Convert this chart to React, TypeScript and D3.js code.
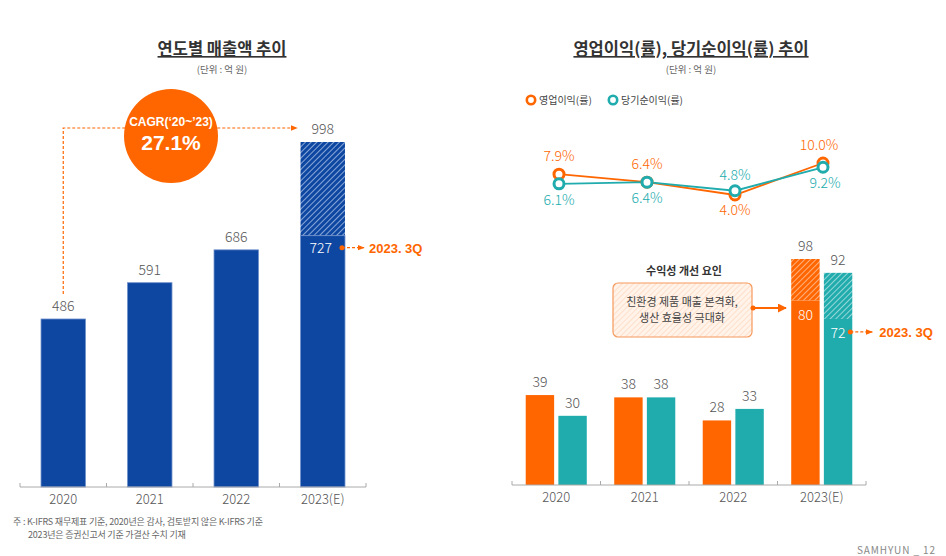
import React from "react";
import * as d3 from "d3";

const years = ["2020", "2021", "2022", "2023(E)"];
const sales = [486, 591, 686, 998];
const sales3Q = 727;
const opMargin = [7.9, 6.4, 4.0, 10.0];
const netMargin = [6.1, 6.4, 4.8, 9.2];
const opProfit = [39, 38, 28, 98];
const netProfit = [30, 38, 33, 92];
const op3Q = 80;
const net3Q = 72;
const seriesKeys = ["op", "net"];

const BLUE = "#0E47A1";
const ORANGE = "#FF6600";
const TEAL = "#20ABAD";
const GRAY = "#555";
const FONT = "'Noto Sans CJK KR', 'Noto Sans', sans-serif";

export default function App() {
  // left chart
  const xL = d3.scaleBand().domain(years).range([20, 366]).paddingInner(0.486).paddingOuter(0.243);
  const yL = d3.scaleLinear().domain([0, 998]).range([487, 142]);
  // right bars
  const xR = d3.scaleBand().domain(years).range([512, 866]).paddingInner(0.31).paddingOuter(0.155);
  const xS = d3.scaleBand().domain(seriesKeys).range([0, xR.bandwidth()]).paddingInner(0.13);
  const yR = d3.scaleLinear().domain([0, 98]).range([485, 259]);
  // right lines
  const xLine = d3.scalePoint().domain(years).range([559, 823]);
  const yLine = d3.scaleLinear().domain([4, 10]).range([195, 163]);
  const line = d3.line<number>().x((_, i) => xLine(years[i])!).y((d) => yLine(d));

  const ticksL = [20, ...years.map((y) => xL(y)! + xL.bandwidth() + (xL.step() - xL.bandwidth()) / 2)];
  const ticksR = [512, ...years.map((y) => xR(y)! + xR.bandwidth() + (xR.step() - xR.bandwidth()) / 2)];

  const opLabelAbove = [true, true, false, true];
  const netLabelAbove = [false, false, true, false];

  const lastL = years[3];
  const bx = xL(lastL)!;
  const bw = xL.bandwidth();
  const ox = xR(lastL)! + xS("op")!;
  const nx = xR(lastL)! + xS("net")!;
  const sw = xS.bandwidth();

  const cagrX = xL(years[0])! + bw / 2;

  return (
    <svg width={946} height={556} style={{ position: "absolute", left: 0, top: 0, fontFamily: FONT }}>
      <defs>
        <pattern id="hatchBlue" width="4" height="4" patternUnits="userSpaceOnUse" patternTransform="rotate(45)">
          <rect width="4" height="4" fill={BLUE} />
          <line x1="0" y1="0" x2="0" y2="4" stroke="#A9C0E6" strokeWidth="1.6" />
        </pattern>
        <pattern id="hatchOrange" width="4" height="4" patternUnits="userSpaceOnUse" patternTransform="rotate(45)">
          <rect width="4" height="4" fill={ORANGE} />
          <line x1="0" y1="0" x2="0" y2="4" stroke="#FFC4A0" strokeWidth="1.6" />
        </pattern>
        <pattern id="hatchTeal" width="4" height="4" patternUnits="userSpaceOnUse" patternTransform="rotate(45)">
          <rect width="4" height="4" fill={TEAL} />
          <line x1="0" y1="0" x2="0" y2="4" stroke="#B5E3E4" strokeWidth="1.6" />
        </pattern>
        <pattern id="hatchBox" width="4" height="4" patternUnits="userSpaceOnUse" patternTransform="rotate(45)">
          <rect width="4" height="4" fill="#FFF3EA" />
          <line x1="0" y1="0" x2="0" y2="4" stroke="#FFD9BF" strokeWidth="1.5" />
        </pattern>
        <marker id="arrowO" viewBox="0 0 10 10" refX="9" refY="5" markerWidth="6" markerHeight="6" orient="auto">
          <path d="M0,1 L10,5 L0,9 z" fill={ORANGE} />
        </marker>
        <marker id="arrowLine" viewBox="0 0 10 10" refX="9" refY="5" markerWidth="5" markerHeight="5" orient="auto">
          <path d="M0,0 L10,5 L0,10 z" fill={ORANGE} />
        </marker>
      </defs>

      {/* ===== LEFT CHART ===== */}
      <text x={222} y={55} textAnchor="middle" fontSize={16.5} fontWeight={700} fill="#333" textDecoration="underline">
        연도별 매출액 추이
      </text>
      <text x={222} y={73} textAnchor="middle" fontSize={9.5} fill="#666">(단위 : 억 원)</text>

      {/* CAGR dashed connector */}
      <path
        d={`M${cagrX},${294} V128 H297`}
        fill="none"
        stroke={ORANGE}
        strokeWidth={1.2}
        strokeDasharray="3,2"
        markerEnd="url(#arrowO)"
      />
      <circle cx={171} cy={136} r={47} fill={ORANGE} />
      <text x={171} y={126} textAnchor="middle" fontSize={12} fontWeight={700} fill="#fff" fontFamily="'Liberation Sans', Arial, sans-serif">
        CAGR(‘20~’23)
      </text>
      <text x={171} y={150} textAnchor="middle" fontSize={21} fontWeight={700} fill="#fff" fontFamily="'Liberation Sans', Arial, sans-serif">
        27.1%
      </text>

      {years.map((y, i) => {
        const x = xL(y)!;
        const top = yL(sales[i]);
        const isLast = i === 3;
        return (
          <g key={y}>
            {isLast ? (
              <>
                <rect x={x} y={top} width={bw} height={yL(sales3Q) - top} fill="url(#hatchBlue)" />
                <rect x={x} y={yL(sales3Q)} width={bw} height={yL(0) - yL(sales3Q)} fill={BLUE} stroke="#6F8FCB" strokeWidth={0.8} />
              </>
            ) : (
              <rect x={x} y={top} width={bw} height={yL(0) - top} fill={BLUE} stroke="#6F8FCB" strokeWidth={0.8} />
            )}
            <text x={x + bw / 2} y={top - 8} textAnchor="middle" fontSize={14} fill={GRAY} fontWeight={300}>
              {sales[i]}
            </text>
            <text x={x + bw / 2} y={504} textAnchor="middle" fontSize={13} fill={GRAY} fontWeight={300}>
              {y}
            </text>
          </g>
        );
      })}
      <text x={bx + bw / 2 - 2} y={yL(sales3Q) + 17} textAnchor="middle" fontSize={14} fill="#fff" fontWeight={300}>
        {sales3Q}
      </text>
      <circle cx={bx + bw - 3} cy={yL(sales3Q) + 12} r={2.5} fill={ORANGE} />
      <line x1={bx + bw - 3} y1={yL(sales3Q) + 12} x2={bx + bw + 19} y2={yL(sales3Q) + 12} stroke={ORANGE} strokeWidth={1.2} strokeDasharray="3,2" markerEnd="url(#arrowO)" />
      <text x={bx + bw + 24} y={yL(sales3Q) + 17} fontSize={13} fontWeight={700} fill={ORANGE} fontFamily="'Liberation Sans', Arial, sans-serif">
        2023. 3Q
      </text>

      <line x1={20} x2={366} y1={487} y2={487} stroke="#aaa" strokeWidth={1} />
      {ticksL.map((t, i) => (
        <line key={i} x1={t} x2={t} y1={483} y2={487} stroke="#aaa" strokeWidth={1} />
      ))}

      {/* footer */}
      <text x={13} y={525} fontSize={9} fill="#666" letterSpacing={-0.2}>
        주 : K-IFRS 재무제표 기준, 2020년은 감사, 검토받지 않은 K-IFRS 기준
      </text>
      <text x={28} y={538} fontSize={9} fill="#666" letterSpacing={-0.2}>
        2023년은  증권신고서 기준 가결산 수치 기재
      </text>

      {/* ===== RIGHT CHART ===== */}
      <text x={691} y={55} textAnchor="middle" fontSize={16.5} fontWeight={700} fill="#333" textDecoration="underline">
        영업이익(률), 당기순이익(률) 추이
      </text>
      <text x={691} y={73} textAnchor="middle" fontSize={9.5} fill="#666">(단위 : 억 원)</text>

      {/* legend */}
      <circle cx={531} cy={100} r={4.2} fill="#fff" stroke={ORANGE} strokeWidth={2.6} />
      <text x={539} y={104} fontSize={10} fill="#444">영업이익(률)</text>
      <circle cx={613} cy={100} r={4.2} fill="#fff" stroke={TEAL} strokeWidth={2.6} />
      <text x={621} y={104} fontSize={10} fill="#444">당기순이익(률)</text>

      {/* lines */}
      <path d={line(opMargin)!} fill="none" stroke={ORANGE} strokeWidth={1.8} />
      <path d={line(netMargin)!} fill="none" stroke={TEAL} strokeWidth={1.8} />
      {opMargin.map((v, i) => (
        <circle key={"o" + i} cx={xLine(years[i])} cy={yLine(v)} r={5} fill="#fff" stroke={ORANGE} strokeWidth={3} />
      ))}
      {netMargin.map((v, i) => (
        <circle key={"n" + i} cx={xLine(years[i])} cy={yLine(v)} r={5} fill="#fff" stroke={TEAL} strokeWidth={3} />
      ))}
      {opMargin.map((v, i) => (
        <text
          key={"ol" + i}
          x={xLine(years[i])! + (i === 3 ? -4 : 0)}
          y={opLabelAbove[i] ? yLine(v) - 13 : yLine(v) + 20}
          textAnchor="middle"
          fontSize={14}
          fontWeight={300}
          fill={ORANGE}
        >
          {v.toFixed(1)}%
        </text>
      ))}
      {netMargin.map((v, i) => (
        <text
          key={"nl" + i}
          x={xLine(years[i])! + (i === 3 ? 2 : 0)}
          y={netLabelAbove[i] ? yLine(v) - 11 : yLine(v) + 21}
          textAnchor="middle"
          fontSize={14}
          fontWeight={300}
          fill={TEAL}
        >
          {v.toFixed(1)}%
        </text>
      ))}

      {/* bars */}
      {years.map((y, i) => {
        const gx = xR(y)!;
        const isLast = i === 3;
        const vals = [opProfit[i], netProfit[i]];
        const cols = [ORANGE, TEAL];
        const hatch = ["url(#hatchOrange)", "url(#hatchTeal)"];
        const q3 = [op3Q, net3Q];
        return (
          <g key={y}>
            {seriesKeys.map((k, j) => {
              const x = gx + xS(k)!;
              const top = yR(vals[j]);
              return (
                <g key={k}>
                  {isLast ? (
                    <>
                      <rect x={x} y={top} width={sw} height={yR(q3[j]) - top} fill={hatch[j]} />
                      <rect x={x} y={yR(q3[j])} width={sw} height={yR(0) - yR(q3[j])} fill={cols[j]} />
                    </>
                  ) : (
                    <rect x={x} y={top} width={sw} height={yR(0) - top} fill={cols[j]} />
                  )}
                  <text x={x + sw / 2} y={top - 8} textAnchor="middle" fontSize={14} fill={GRAY} fontWeight={300}>
                    {vals[j]}
                  </text>
                </g>
              );
            })}
            <text x={gx + xR.bandwidth() / 2} y={502} textAnchor="middle" fontSize={13} fill={GRAY} fontWeight={300}>
              {y}
            </text>
          </g>
        );
      })}
      <text x={ox + sw / 2} y={yR(op3Q) + 19} textAnchor="middle" fontSize={14} fill="#fff" fontWeight={300}>
        {op3Q}
      </text>
      <text x={nx + sw / 2} y={yR(net3Q) + 19} textAnchor="middle" fontSize={14} fill="#fff" fontWeight={300}>
        {net3Q}
      </text>
      <circle cx={nx + sw - 2} cy={yR(net3Q) + 13} r={2.5} fill={ORANGE} />
      <line x1={nx + sw - 2} y1={yR(net3Q) + 13} x2={nx + sw + 20} y2={yR(net3Q) + 13} stroke={ORANGE} strokeWidth={1.2} strokeDasharray="3,2" markerEnd="url(#arrowO)" />
      <text x={nx + sw + 27} y={yR(net3Q) + 18} fontSize={13} fontWeight={700} fill={ORANGE} fontFamily="'Liberation Sans', Arial, sans-serif">
        2023. 3Q
      </text>

      <line x1={512} x2={866} y1={485} y2={485} stroke="#aaa" strokeWidth={1} />
      {ticksR.map((t, i) => (
        <line key={i} x1={t} x2={t} y1={481} y2={485} stroke="#aaa" strokeWidth={1} />
      ))}

      {/* annotation */}
      <text x={684} y={275} textAnchor="middle" fontSize={11} fontWeight={700} fill="#333">수익성 개선 요인</text>
      <rect x={613} y={283} width={139} height={54} rx={5} fill="url(#hatchBox)" stroke="#F59A5C" strokeWidth={1.2} />
      <text x={682} y={306} textAnchor="middle" fontSize={11} fill="#444">친환경 제품 매출 본격화,</text>
      <text x={682} y={322} textAnchor="middle" fontSize={11} fill="#444">생산 효율성 극대화</text>
      <circle cx={753} cy={308} r={2.5} fill={ORANGE} />
      <line x1={753} y1={308} x2={786} y2={308} stroke={ORANGE} strokeWidth={1.8} markerEnd="url(#arrowLine)" />

      <text x={936} y={554} textAnchor="end" fontSize={10} fill="#888" letterSpacing={0.9}>
        SAMHYUN _  12
      </text>
    </svg>
  );
}
